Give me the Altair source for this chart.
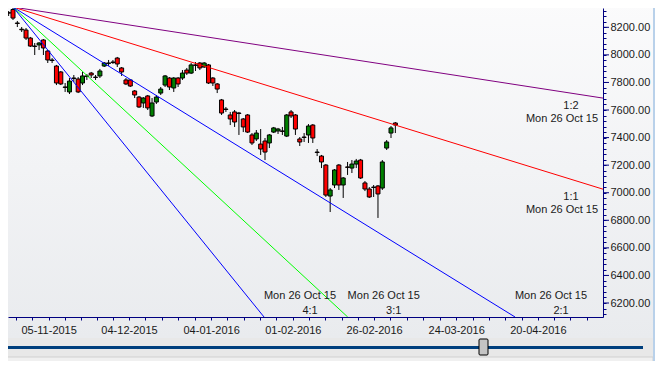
import altair as alt
import numpy as np
import pandas as pd

# ---------------- data (NIFTY-like daily candles) ----------------
# bar index 0 = Mon 26 Oct 2015 (Gann fan origin)
bar_index = list(range(-2, 89))
open_ = [8275, 8306, 8329, 8231, 8186, 8180, 8122, 8064, 8072, 8108,
         8028, 7963, 7919, 7876, 7767, 7731, 7832, 7825, 7796, 7847,
         7868, 7839, 7847, 7919, 7941, 7948, 7977, 7905, 7818, 7818,
         7738, 7694, 7651, 7702, 7557, 7658, 7723, 7781, 7832, 7760,
         7832, 7832, 7890, 7868, 7927, 7941, 7912, 7927, 7832, 7789,
         7673, 7607, 7564, 7586, 7578, 7535, 7564, 7419, 7390, 7353,
         7375, 7361, 7440, 7448, 7448, 7411, 7586, 7564, 7390, 7404,
         7419, 7491, 7295, 7266, 7201, 6976, 7056, 7201, 7056, 7187,
         7179, 7208, 7237, 7071, 7027, 7041, 7049, 7034, 7324, 7433,
         7506]
high = [8289, 8318, 8347, 8246, 8202, 8195, 8130, 8086, 8093, 8115,
        8035, 7977, 7927, 7883, 7796, 7832, 7854, 7839, 7876, 7861,
        7876, 7854, 7898, 7948, 7963, 7963, 7985, 7912, 7832, 7825,
        7745, 7702, 7694, 7709, 7687, 7709, 7767, 7854, 7839, 7839,
        7839, 7890, 7905, 7941, 7948, 7948, 7948, 7934, 7839, 7796,
        7680, 7622, 7586, 7600, 7586, 7542, 7571, 7433, 7455, 7462,
        7397, 7426, 7477, 7470, 7477, 7571, 7600, 7571, 7404, 7433,
        7498, 7498, 7317, 7274, 7208, 7034, 7172, 7208, 7114, 7223,
        7237, 7245, 7245, 7085, 7041, 7056, 7056, 7237, 7382, 7484,
        7513]
low = [8224, 8282, 8253, 8202, 8166, 8108, 8057, 7999, 8035, 7999,
       7941, 7941, 7781, 7781, 7731, 7716, 7803, 7723, 7781, 7818,
       7832, 7818, 7832, 7912, 7919, 7934, 7912, 7847, 7781, 7767,
       7687, 7615, 7615, 7600, 7549, 7644, 7709, 7767, 7745, 7731,
       7767, 7818, 7854, 7861, 7883, 7890, 7905, 7789, 7774, 7723,
       7564, 7586, 7491, 7477, 7419, 7440, 7433, 7346, 7375, 7274,
       7237, 7324, 7433, 7426, 7419, 7404, 7542, 7419, 7339, 7368,
       7361, 7361, 7266, 7179, 6969, 6860, 7034, 7020, 6962, 7129,
       7143, 7179, 7100, 7012, 6962, 6969, 6817, 7020, 7310, 7397,
       7433]
close = [8267, 8303, 8267, 8228, 8182, 8122, 8064, 8061, 8086, 8050,
         7963, 7959, 7796, 7789, 7764, 7810, 7829, 7731, 7847, 7844,
         7854, 7836, 7883, 7941, 7938, 7945, 7934, 7876, 7789, 7774,
         7709, 7622, 7687, 7615, 7651, 7694, 7752, 7847, 7767, 7832,
         7789, 7868, 7868, 7927, 7924, 7905, 7941, 7796, 7796, 7752,
         7578, 7604, 7535, 7513, 7575, 7477, 7440, 7361, 7433, 7317,
         7295, 7419, 7470, 7462, 7445, 7564, 7557, 7462, 7368, 7401,
         7484, 7397, 7292, 7223, 6983, 7020, 7165, 7056, 7107, 7184,
         7208, 7230, 7107, 7027, 6969, 7038, 6991, 7223, 7368, 7470,
         7491]

# Gann fan
fan_origin_index = 0
fan_origin_price = 8347
fan_unit = 9.73          # points per bar of the 1:1 line
fan_names = ["1:2", "1:1", "2:1", "3:1", "4:1"]
fan_ratios = [0.5, 1, 2, 3, 4]
fan_date_text = "Mon 26 Oct 15"

# axes
y_major = list(range(6200, 8201, 200))
y_minor = list(range(6120, 8321, 40))
x_label_pos = [8.2, 26.7, 45.6, 64.4, 83.1, 102.0, 120.8]
x_label_text = ["05-11-2015", "04-12-2015", "04-01-2016", "01-02-2016",
                "26-02-2016", "24-03-2016", "20-04-2016"]

# ---------------- styles / layout ----------------
fan_colors = ["#800080", "#ff0000", "#0000ff", "#00ff00", "#0000ff"]
X_DOMAIN = [-1.15, 135.79]
Y_DOMAIN = [6098.5, 8340]
W, H = 595, 309
FONT = "Liberation Sans"
AXIS_BLUE = "#000080"

# x ticks: 5 per label interval
xt = []
for a, b in zip(x_label_pos[:-1], x_label_pos[1:]):
    xt += list(np.linspace(a, b, 6)[:-1])
xt.append(x_label_pos[-1])
step = (x_label_pos[-1] - x_label_pos[0]) / ((len(x_label_pos) - 1) * 5)
k = 1
while x_label_pos[0] - k * step >= X_DOMAIN[0]:
    xt.append(x_label_pos[0] - k * step)
    k += 1
k = 1
while x_label_pos[-1] + k * step <= X_DOMAIN[1]:
    xt.append(x_label_pos[-1] + k * step)
    k += 1
xt = sorted(round(float(v), 3) for v in xt)

x_expr = "''"
for p, t in reversed(list(zip(x_label_pos, x_label_text))):
    x_expr = f"abs(datum.value - {p}) < 0.01 ? '{t}' : ({x_expr})"

xscale = alt.Scale(domain=X_DOMAIN, nice=False, zero=False)
yscale = alt.Scale(domain=Y_DOMAIN, nice=False, zero=False)
xaxis = alt.Axis(orient="bottom", values=xt, labelExpr=x_expr, tickSize=3, labelPadding=4,
                 grid=False, domainColor=AXIS_BLUE, tickColor=AXIS_BLUE, labelColor="#1a1a1a",
                 labelFont=FONT, labelFontSize=11, labelOverlap=False, labelFlush=False,
                 title=None, zindex=1)
yaxis = alt.Axis(orient="right", values=y_minor,
                 labelExpr="datum.value % 200 == 0 ? format(datum.value, '.2f') : ''",
                 tickSize=3, labelPadding=4, grid=False, domainColor=AXIS_BLUE,
                 tickColor=AXIS_BLUE, labelColor="#1a1a1a", labelFont=FONT, labelFontSize=11,
                 labelOverlap=False, labelFlush=False, title=None, zindex=1)


def xe(f):
    return alt.X(f, type="quantitative", scale=xscale, axis=xaxis)


def ye(f):
    return alt.Y(f, type="quantitative", scale=yscale, axis=yaxis)


one = pd.DataFrame({"a": [0]})

# ---------------- chrome ----------------
bg = alt.Chart(one).mark_rect(
    color=alt.Gradient(gradient="linear",
                       stops=[alt.GradientStop(color="#fbfbfc", offset=0),
                              alt.GradientStop(color="#e9ebee", offset=1)],
                       x1=0, x2=0, y1=0, y2=1),
    clip=False).encode(x=alt.value(-8), x2=alt.value(645), y=alt.value(-8), y2=alt.value(330))
band = alt.Chart(one).mark_rect(color="#e8e8e8", clip=False).encode(
    x=alt.value(-8), x2=alt.value(645), y=alt.value(330), y2=alt.value(349))
scroll = alt.Chart(one).mark_rect(color="#003f7d", clip=False).encode(
    x=alt.value(-8), x2=alt.value(635), y=alt.value(338), y2=alt.value(341))
thumb = alt.Chart(one).mark_rect(color="#c4c4c4", stroke="#000000", strokeWidth=1,
                                 cornerRadius=1, clip=False).encode(
    x=alt.value(471), x2=alt.value(480), y=alt.value(331), y2=alt.value(347))
lower = alt.Chart(one).mark_rect(color="#f0f0f0", stroke="#d0d0d0", strokeWidth=1, clip=False).encode(
    x=alt.value(-8), x2=alt.value(645), y=alt.value(349), y2=alt.value(380))
strip = alt.Chart(one).mark_rect(color="#b9d1ea", clip=False).encode(
    x=alt.value(645), x2=alt.value(656), y=alt.value(-8), y2=alt.value(380))

major = alt.Chart(pd.DataFrame({"v": y_major})).mark_rule(color=AXIS_BLUE, strokeWidth=1).encode(
    y=ye("v"), x=alt.value(W), x2=alt.value(W + 6))

# ---------------- candles ----------------
cdf = pd.DataFrame({"i": bar_index, "o": open_, "h": high, "l": low, "c": close})
wicks = alt.Chart(cdf).mark_rule(color="black", strokeWidth=1, clip=True).encode(
    x=xe("i"), y=ye("l"), y2=alt.Y2("h"))
bodies = alt.Chart(cdf).transform_calculate(
    xl="datum.i - 0.46", xr="datum.i + 0.46",
    bt="min(datum.o, datum.c)", tp="max(datum.o, datum.c)"
).mark_rect(stroke="black", strokeWidth=1, clip=True).encode(
    x=xe("xl"), x2=alt.X2("xr"), y=ye("bt"), y2=alt.Y2("tp"),
    color=alt.condition("datum.c >= datum.o", alt.value("#008000"), alt.value("#ff0000")))

# ---------------- Gann fan ----------------
rows = []
for n, r in zip(fan_names, fan_ratios):
    slope = r * fan_unit
    t = (fan_origin_price - Y_DOMAIN[0]) / slope
    if fan_origin_index + t <= X_DOMAIN[1]:
        xe_, ye_, side = fan_origin_index + t, Y_DOMAIN[0], "bottom"
    else:
        xe_ = X_DOMAIN[1]
        ye_ = fan_origin_price - slope * (X_DOMAIN[1] - fan_origin_index)
        side = "right"
    rows.append({"name": n, "x0": fan_origin_index, "y0": fan_origin_price,
                 "x1": xe_, "y1": ye_, "side": side, "date": fan_date_text})
fdf = pd.DataFrame(rows)

fan = alt.Chart(fdf).mark_rule(strokeWidth=1, clip=True).encode(
    x=xe("x0"), y=ye("y0"), x2=alt.X2("x1"), y2=alt.Y2("y1"),
    color=alt.Color("name:N", scale=alt.Scale(domain=fan_names, range=fan_colors), legend=None))


def label(side, field, dx, dy):
    return alt.Chart(fdf).transform_filter(f"datum.side == '{side}'").mark_text(
        font=FONT, fontSize=11, color="#1a1a1a", align="center", baseline="middle",
        dx=dx, dy=dy, clip=False).encode(x=xe("x1"), y=ye("y1"), text=alt.Text(f"{field}:N"))


texts = [label("bottom", "date", 36, -21), label("bottom", "name", 46, -6),
         label("right", "name", -32, 8), label("right", "date", -41, 21)]

chart = alt.layer(bg, band, scroll, lower, thumb, strip, major, wicks, bodies, fan, *texts).properties(
    width=W, height=H,
    padding={"left": 0, "top": 0, "right": 52, "bottom": 44},
    autosize=alt.AutoSizeParams(type="none"),
    background="#f0f0f0",
).configure_view(strokeWidth=0)

chart.save("out.html", embed_options={"renderer": "svg", "actions": False})
